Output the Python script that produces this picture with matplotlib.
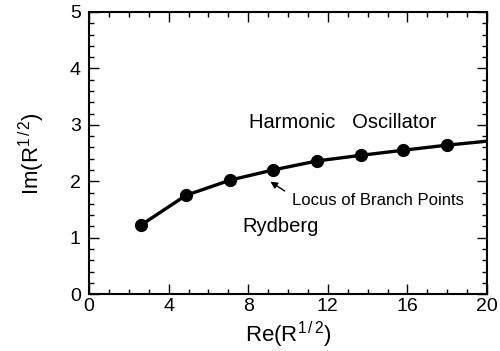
import matplotlib
matplotlib.use("Agg")
import matplotlib.pyplot as plt
from matplotlib.ticker import MultipleLocator

# branch point locus
re_pts = [2.6, 4.87, 7.09, 9.25, 11.46, 13.67, 15.8, 18.0]
im_pts = [1.22, 1.75, 2.02, 2.20, 2.36, 2.46, 2.55, 2.64]
# the line runs on past the last dot to the frame
re_line = re_pts + [20.0]
im_line = im_pts + [2.71]

x_ticks = [0, 4, 8, 12, 16, 20]
y_ticks = [0, 1, 2, 3, 4, 5]

plt.rcParams["font.family"] = ["Liberation Sans", "DejaVu Sans"]
plt.rcParams["mathtext.fontset"] = "custom"
plt.rcParams["mathtext.rm"] = "Liberation Sans"
plt.rcParams["mathtext.it"] = "Liberation Sans"

fig = plt.figure(figsize=(5.0, 3.51), dpi=100)
ax = fig.add_axes([0.178, 0.162, 0.796, 0.804])

ax.plot(re_line, im_line, color="black", lw=2.4, solid_capstyle="butt")
ax.plot(re_pts, im_pts, "o", color="black", ms=8.5)

ax.set_xlim(0, 20)
ax.set_ylim(0, 5)
ax.set_xticks(x_ticks)
ax.set_yticks(y_ticks)
ax.xaxis.set_minor_locator(MultipleLocator(1))
ax.yaxis.set_minor_locator(MultipleLocator(0.2))
ax.tick_params(which="both", direction="in", top=True, right=True, width=1.0)
ax.tick_params(which="major", length=7, labelsize=14)
ax.tick_params(axis="x", which="major", pad=3)
ax.tick_params(axis="y", which="major", pad=6)
ax.tick_params(which="minor", length=3.5)
for s in ax.spines.values():
    s.set_linewidth(1.5)

ax.set_xlabel(r"Re(R$^{1\,/\,2}$)", fontsize=16, labelpad=3)
ax.set_ylabel(r"Im(R$^{1\,/\,2}$)", fontsize=16, labelpad=16)

ax.text(8.05, 3.04, "Harmonic   Oscillator", fontsize=14.5, va="center")
ax.text(7.7, 1.2, "Rydberg", fontsize=14.5, va="center")
ax.text(10.2, 1.66, "Locus of Branch Points", fontsize=12, va="center")
ax.annotate("", xy=(9.0, 2.02), xytext=(9.95, 1.80),
            arrowprops=dict(arrowstyle="-|>", color="black", lw=1.0,
                            mutation_scale=10))

fig.savefig("out.png", dpi=100)
